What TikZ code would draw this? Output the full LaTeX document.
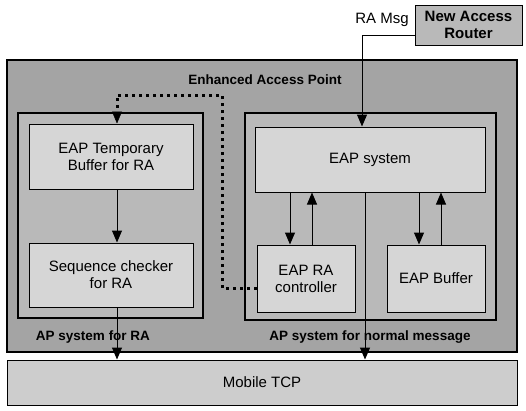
\documentclass[tikz,border=0pt]{standalone}
\usepackage{xcolor}
\usepackage{fontspec}
\setmainfont{Liberation Sans}
\usepackage{tikz}
\usetikzlibrary{arrows.meta}
\definecolor{eapOuter}{HTML}{A4A4A4}
\definecolor{eapBand}{HTML}{B9B9B9}
\definecolor{eapInner}{HTML}{D6D6D6}
\definecolor{eapTcp}{HTML}{CDCDCD}
\tikzset{
  box/.style={draw=black, line width=1pt, fill=eapInner, align=center, inner sep=0pt, font=\fontsize{15}{17}\selectfont},
  frame/.style={draw=black, line width=1.2pt, fill=eapBand, inner sep=0pt},
  arr/.style={-{Triangle[length=12pt,width=10pt]}, line width=1pt},
  dots/.style={-{Triangle[length=12pt,width=10pt,line width=0.5pt]}, line width=3pt, dash pattern=on 3pt off 4pt},
  ttl/.style={font=\fontsize{13.5}{16}\selectfont\bfseries},
  txt/.style={font=\fontsize{15}{17}\selectfont},
}
\begin{document}
\begin{tikzpicture}[x=1pt, y=-1pt]
  \useasboundingbox (0,0) rectangle (526,410);
  % access point with its two subsystems
  \node[frame, fill=eapOuter, minimum width=510pt, minimum height=292pt] (eap) at (262,206) {};
  \node[ttl] (eaplbl) at (265,80) {Enhanced Access Point};
  \node[frame, minimum width=185pt, minimum height=205pt] (rasys) at (110.5,215.5) {};
  \node[frame, minimum width=251pt, minimum height=207pt] (normsys) at (370.5,216.5) {};
  \node[box, minimum width=164pt, minimum height=65pt] (tempbuf) at (111,156.5) {EAP Temporary\\Buffer for RA};
  \node[box, minimum width=164pt, minimum height=64pt] (seqchk) at (111,275) {Sequence checker\\for RA};
  \node[box, minimum width=230pt, minimum height=65pt] (eapsys) at (370,159.5) {EAP system};
  \node[box, minimum width=98pt, minimum height=67pt] (racontrol) at (306,278.5) {EAP RA\\controller};
  \node[box, minimum width=98pt, minimum height=67pt] (eapbuf) at (436,278.5) {EAP Buffer};
  \node[ttl] (raname) at (93,337) {AP system for RA};
  \node[ttl] (normname) at (370,337) {AP system for normal message};
  % outside
  \node[box, fill=eapTcp, minimum width=510pt, minimum height=45pt] (mtcp) at (262,382.5) {Mobile TCP};
  \node[box, fill=eapBand, font=\fontsize{15}{17}\selectfont\bfseries, minimum width=107pt, minimum height=40pt] (router) at (468.5,25) {New Access\\Router};
  \node[txt] (ramsg) at (382,20) {RA Msg};
  \coordinate (dtop) at (222,95);
  % connectors
  \draw[arr] ([yshift=-10pt]router.west) -| ([xshift=-8pt]eapsys.north);
  \draw[dots] ([yshift=-10pt]racontrol.west) -| (dtop) -| ([xshift=6pt]tempbuf.north);
  \draw[arr] ([xshift=6pt]tempbuf.south) -- ([xshift=6pt]seqchk.north);
  \draw[arr] ([xshift=6pt]seqchk.south) -- ([xshift=6pt]seqchk.south |- mtcp.north);
  \draw[arr] ([xshift=-5pt]eapsys.south) -- ([xshift=-5pt]eapsys.south |- mtcp.north);
  \draw[arr] ([xshift=-16pt]racontrol.north |- eapsys.south) -- ([xshift=-16pt]racontrol.north);
  \draw[arr] ([xshift=6pt]racontrol.north) -- ([xshift=6pt]racontrol.north |- eapsys.south);
  \draw[arr] ([xshift=-17pt]eapbuf.north |- eapsys.south) -- ([xshift=-17pt]eapbuf.north);
  \draw[arr] ([xshift=5pt]eapbuf.north) -- ([xshift=5pt]eapbuf.north |- eapsys.south);
\end{tikzpicture}
\end{document}
